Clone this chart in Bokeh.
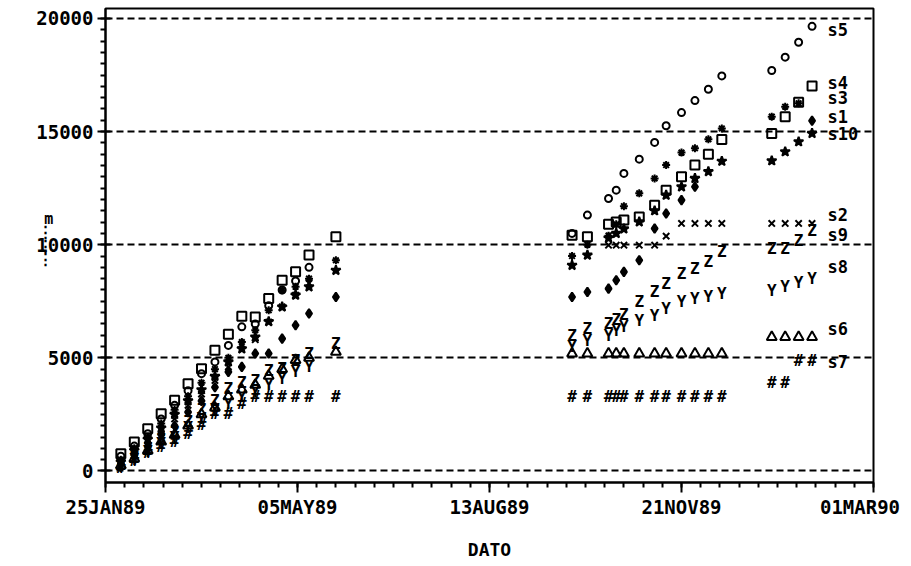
import pandas as pd
from bokeh.plotting import figure
from bokeh.models import Range1d, FixedTicker, ColumnDataSource, Label, NumeralTickFormatter
from bokeh.core.properties import value
from bokeh.embed import file_html
from bokeh.resources import INLINE

START = "1989-01-25"

# measurement dates (spring 1989, autumn 1989, winter 1990)
dates = [
    "1989-02-02", "1989-02-09", "1989-02-16", "1989-02-23", "1989-03-02", "1989-03-09",
    "1989-03-16", "1989-03-23", "1989-03-30", "1989-04-06", "1989-04-13", "1989-04-20",
    "1989-04-27", "1989-05-04", "1989-05-11", "1989-05-25",
    "1989-09-25", "1989-10-03", "1989-10-14", "1989-10-18", "1989-10-22", "1989-10-30",
    "1989-11-07", "1989-11-13", "1989-11-21", "1989-11-28", "1989-12-05", "1989-12-12",
    "1990-01-07", "1990-01-14", "1990-01-21", "1990-01-28",
]

N = None
s1 = [300, 700, 1100, 1600, 2000, 2600, 3100, 3700, 4380, 4600, 5190, 5190, 5850, 6440, 6960, 7690,
      7690, 7910, 8060, 8430, 8800, 9315, 10716, 11380, 11970, 12560, N, N,
      N, N, N, 15480]
s2 = [450, 900, 1350, 1800, 2300, 2900, 3400, 4000, 4600, 5600, 5800, 6580, 7250, 7770, 8300, N,
      N, N, 9980, 9980, 9980, 9980, 9980, 10380, 10940, 10940, 10940, 10940,
      10940, 10940, 10940, 10940]
s3 = [500, 1000, 1500, 2100, 2700, 3300, 3900, 4500, 5000, 5700, 6220, 7100, 7990, 8140, 8500, 9310,
      9500, 10000, 10400, 10900, 11700, 12270, 12930, 13520, 14070, 14260, 14660, 15140,
      15660, 16100, 16250, N]
s4 = [760, 1280, 1870, 2530, 3120, 3860, 4520, 5330, 6040, 6840, 6810, 7620, 8430, 8800, 9540, 10350,
      10420, 10350, 10900, 11000, 11090, 11230, 11740, 12410, 13000, 13520, 14000, 14650,
      14920, 15660, 16300, 17010]
s5 = [650, 1100, 1650, 2300, 2900, 3550, 4300, 4820, 5550, 6370, 6500, 7300, 8000, 8400, 9000, N,
      10500, 11310, 12040, 12410, 13150, 13780, 14520, 15260, 15840, 16370, 16870, 17460,
      17700, 18290, 18950, 19650]
s6 = [250, 550, 900, 1300, 1600, 2000, 2500, 2800, 3300, 3600, 3800, 4200, 4500, 4900, 5000, 5260,
      5190, 5190, 5190, 5190, 5190, 5190, 5190, 5190, 5190, 5190, 5190, 5190,
      5920, 5920, 5920, 5920]
s7 = [150, 450, 800, 1100, 1300, 1650, 2050, 2530, 2530, 2970, 3270, 3270, 3270, 3270, 3270, 3270,
      3270, 3270, 3270, 3270, 3270, 3270, 3270, 3270, 3270, 3270, 3270, 3270,
      3930, 3930, 4890, 4890]
s8 = [200, 500, 850, 1200, 1500, 1900, 2300, 2700, 3000, 3300, 3500, 3800, 4100, 4400, 4600, N,
      5480, 5780, 6000, 6200, 6400, 6660, 6880, 7180, 7470, 7620, 7690, 7840,
      7990, 8170, 8310, 8500]
s9 = [300, 600, 1000, 1400, 1700, 2200, 2700, 3120, 3640, 3930, 4000, 4450, 4520, 4890, 5190, 5630,
      6000, 6290, 6500, 6700, 6900, 7470, 7910, 8280, 8730, 8950, 9240, 9680,
      9830, 9830, 10200, 10640]
s10 = [400, 900, 1400, 1900, 2500, 3100, 3590, 4180, 4820, 5400, 5920, 6600, 7250, 7770, 8140, 8870,
       9090, 9540, 10300, 10500, 10700, 11010, 11500, 12190, 12560, 12930, 13230, 13690,
       13710, 14110, 14550, 14920]

series = {"s1": s1, "s2": s2, "s3": s3, "s4": s4, "s5": s5,
          "s6": s6, "s7": s7, "s8": s8, "s9": s9, "s10": s10}

# end-of-line series labels: label date and the level at which each name sits
label_date = "1990-02-05"
label_names = ["s5", "s4", "s3", "s1", "s10", "s2", "s9", "s8", "s6", "s7"]
label_levels = [19490, 17160, 16470, 15630, 14890, 11310, 10420, 9020, 6290, 4810]

tick_dates = ["1989-01-25", "1989-05-05", "1989-08-13", "1989-11-21", "1990-03-01"]

t0 = pd.Timestamp(START)
day = [(pd.Timestamp(d) - t0).days for d in dates]
tick_days = [(pd.Timestamp(d) - t0).days for d in tick_dates]
tick_text = [pd.Timestamp(d).strftime("%d%b%y").upper() for d in tick_dates]
tick_text[-1] = tick_text[-1] + " "

FONT = "DejaVu Sans Mono"

p = figure(width=911, height=566, output_backend="svg", toolbar_location=None,
           x_range=Range1d(0, 400), y_range=Range1d(-510, 20440),
           min_border_left=105, min_border_right=38, min_border_top=8, min_border_bottom=84,
           background_fill_color="white", border_fill_color="white")

p.outline_line_color = "black"
p.outline_line_width = 2

# axes
p.xaxis.ticker = FixedTicker(ticks=tick_days, minor_ticks=list(range(0, 401, 10)))
p.xaxis.major_label_overrides = {d: t for d, t in zip(tick_days, tick_text)}
p.yaxis.ticker = FixedTicker(ticks=[0, 5000, 10000, 15000, 20000],
                             minor_ticks=list(range(0, 20001, 500)))
p.yaxis.formatter = NumeralTickFormatter(format="0")
for ax in (p.xaxis[0], p.yaxis[0]):
    ax.axis_line_width = 2
    ax.axis_line_color = "black"
    ax.major_tick_line_width = 2
    ax.minor_tick_line_width = 2
    ax.major_tick_line_color = "black"
    ax.minor_tick_line_color = "black"
    ax.major_label_text_font = FONT
    ax.major_label_text_font_size = "19px"
    ax.major_label_text_font_style = "bold"
    ax.major_label_text_color = "black"
    ax.axis_label_text_font = FONT
    ax.axis_label_text_font_size = "18px"
    ax.axis_label_text_font_style = "bold"
    ax.axis_label_text_color = "black"

p.xaxis.major_tick_out = 10
p.xaxis.major_tick_in = 0
p.xaxis.minor_tick_out = 5
p.xaxis.minor_tick_in = 0
p.xaxis.major_label_standoff = 3
p.xaxis.axis_label = "DATO"
p.xaxis.axis_label_standoff = 18

p.yaxis.major_tick_out = 8
p.yaxis.major_tick_in = 5
p.yaxis.minor_tick_out = 5
p.yaxis.minor_tick_in = 0
p.yaxis.major_label_standoff = 4

# y unit, written upright
p.yaxis.axis_label = "m\n\u22ee\n\u22ee\n\u22ee\n"
p.yaxis.axis_label_text_font_size = "15px"
p.yaxis.axis_label_text_line_height = 0.75
try:
    p.yaxis.axis_label_orientation = "horizontal"
except AttributeError:
    pass
p.yaxis.axis_label_standoff = -20

# dashed reference lines at the major y ticks
p.xgrid.visible = False
p.ygrid.ticker = FixedTicker(ticks=[0, 5000, 10000, 15000, 20000])
p.ygrid.grid_line_color = "black"
p.ygrid.grid_line_width = 2
p.ygrid.grid_line_dash = "7 4"

# symbol for each series
markers = {
    "s1": ("diamond", 9, True),
    "s2": ("x", 9, False),
    "s3": ("asterisk", 8, False),
    "s4": ("square", 9, False),
    "s5": ("circle", 7, False),
    "s6": ("triangle", 10, False),
    "s10": ("star", 10, True),
}
letters = {"s7": "#", "s8": "Y", "s9": "Z"}

for name, vals in series.items():
    df = pd.DataFrame({"x": day, "y": vals}).dropna()
    src = ColumnDataSource(df)
    if name in markers:
        m, size, filled = markers[name]
        p.scatter("x", "y", source=src, marker=m, size=size, line_color="black",
                  line_width=2, fill_color="black" if filled else None)
    else:
        p.text("x", "y", source=src, text=value(letters[name]), text_font=value(FONT),
               text_font_size="16px", text_font_style="bold", text_color="black",
               text_align="center", text_baseline="middle")

lx = (pd.Timestamp(label_date) - t0).days
for nm, lv in zip(label_names, label_levels):
    p.add_layout(Label(x=lx, y=lv, text=nm, text_font=FONT, text_font_size="17px",
                       text_font_style="bold", text_color="black", text_baseline="middle",
                       text_align="left"))

open("out.html", "w").write(file_html(p, INLINE))
